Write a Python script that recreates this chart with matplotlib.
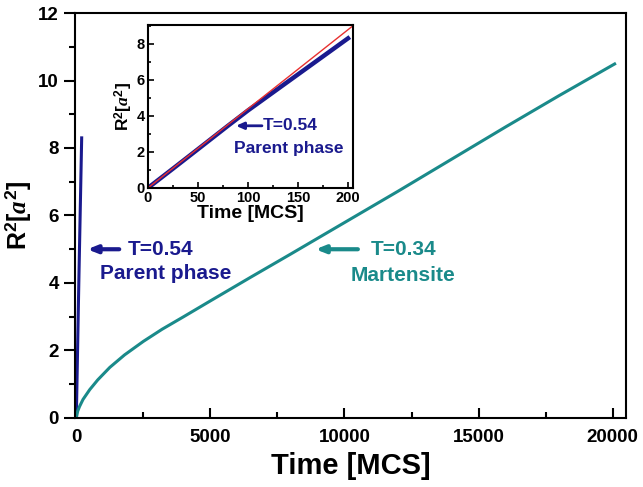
import numpy as np
import matplotlib.pyplot as plt
from matplotlib.ticker import MultipleLocator

plt.rcParams['font.family'] = ['Liberation Sans', 'DejaVu Sans']
plt.rcParams['font.weight'] = 'bold'
plt.rcParams['mathtext.fontset'] = 'custom'
plt.rcParams['mathtext.rm'] = 'Liberation Sans:bold'
plt.rcParams['mathtext.bf'] = 'Liberation Sans:bold'
plt.rcParams['mathtext.it'] = 'Liberation Serif:italic'

# martensite, T=0.34
t_mart = [0, 50, 120, 250, 500, 800, 1250, 1800, 2500, 3200, 4000, 5000,
          6500, 8000, 10000, 12000, 14000, 16000, 18000, 20075]
r2_mart = [0, 0.2, 0.34, 0.55, 0.84, 1.13, 1.5, 1.87, 2.27, 2.63, 3.0, 3.47,
           4.17, 4.86, 5.79, 6.72, 7.67, 8.62, 9.55, 10.49]

# parent phase, T=0.54
t_par = [0, 25, 50, 80, 100, 125, 150, 175, 200]
r2_par = [0, 1.07, 2.15, 3.45, 4.3, 5.3, 6.3, 7.3, 8.3]

# linear reference in the inset
t_fit = [0, 205]
r2_fit = [0, 9.0]

navy = '#1a1a8e'
teal = '#1a8a8a'

fig = plt.figure(figsize=(6.43, 4.87), dpi=100)
ax = fig.add_axes([0.1166, 0.1417, 0.857, 0.8316])
ax.plot(t_par, r2_par, color=navy, lw=2.2)
ax.plot(t_mart, r2_mart, color=teal, lw=2.2)
ax.set_xlim(-50, 20500)
ax.set_ylim(0, 12)
ax.xaxis.set_major_locator(MultipleLocator(5000))
ax.xaxis.set_minor_locator(MultipleLocator(2500))
ax.yaxis.set_major_locator(MultipleLocator(2))
ax.yaxis.set_minor_locator(MultipleLocator(1))
ax.tick_params(axis='x', which='both', direction='in', labelsize=13.5, width=1.5, pad=8)
ax.tick_params(axis='x', which='major', length=7)
ax.tick_params(axis='x', which='minor', length=4)
ax.tick_params(axis='y', which='both', direction='out', labelsize=13.5, width=1.5)
ax.tick_params(axis='y', which='major', length=8)
ax.tick_params(axis='y', which='minor', length=4)
for s in ax.spines.values():
    s.set_linewidth(1.5)
ax.set_xlabel('Time [MCS]', fontsize=21, fontweight='bold', labelpad=4)
ax.set_ylabel(r'R$^{\mathrm{2}}$[$a^{\mathrm{2}}$]', fontsize=18, fontweight='bold', labelpad=4)

arr = dict(arrowstyle='-|>,head_length=0.55,head_width=0.22', lw=3, shrinkA=0, shrinkB=0)
ax.annotate('', xy=(410, 5.0), xytext=(1600, 5.0), arrowprops=dict(arr, color=navy))
ax.text(1900, 5.0, 'T=0.54', color=navy, fontsize=15, fontweight='bold', va='center')
ax.text(880, 4.27, 'Parent phase', color=navy, fontsize=15, fontweight='bold', va='center')
ax.annotate('', xy=(8920, 5.0), xytext=(10500, 5.0), arrowprops=dict(arr, color=teal))
ax.text(10970, 5.0, 'T=0.34', color=teal, fontsize=15, fontweight='bold', va='center')
ax.text(10220, 4.22, 'Martensite', color=teal, fontsize=15, fontweight='bold', va='center')

# inset
ins = fig.add_axes([0.230, 0.614, 0.319, 0.335])
ins.plot(t_par, r2_par, color=navy, lw=3.2)
ins.plot(t_fit, r2_fit, color='#e83030', lw=1.0)
ins.set_xlim(0, 205)
ins.set_ylim(0, 9.05)
ins.xaxis.set_major_locator(MultipleLocator(50))
ins.xaxis.set_minor_locator(MultipleLocator(25))
ins.yaxis.set_major_locator(MultipleLocator(2))
ins.yaxis.set_minor_locator(MultipleLocator(1))
ins.tick_params(which='both', direction='in', labelsize=10.5, width=1.2, pad=2)
ins.tick_params(which='major', length=4)
ins.tick_params(which='minor', length=2)
for s in ins.spines.values():
    s.set_linewidth(1.5)
ins.set_xlabel('Time [MCS]', fontsize=14, fontweight='bold', labelpad=0)
ins.set_ylabel(r'R$^{\mathrm{2}}$[$a^{\mathrm{2}}$]', fontsize=12.5, fontweight='bold', labelpad=1)
ins.annotate('', xy=(88, 3.45), xytext=(114, 3.45),
             arrowprops=dict(arrowstyle='-|>,head_length=0.45,head_width=0.2', lw=2,
                             shrinkA=0, shrinkB=0, color=navy))
ins.text(115, 3.45, 'T=0.54', color=navy, fontsize=12.5, fontweight='bold', va='center')
ins.text(86, 2.2, 'Parent phase', color=navy, fontsize=12.5, fontweight='bold', va='center')

fig.savefig('out.png', dpi=100)
